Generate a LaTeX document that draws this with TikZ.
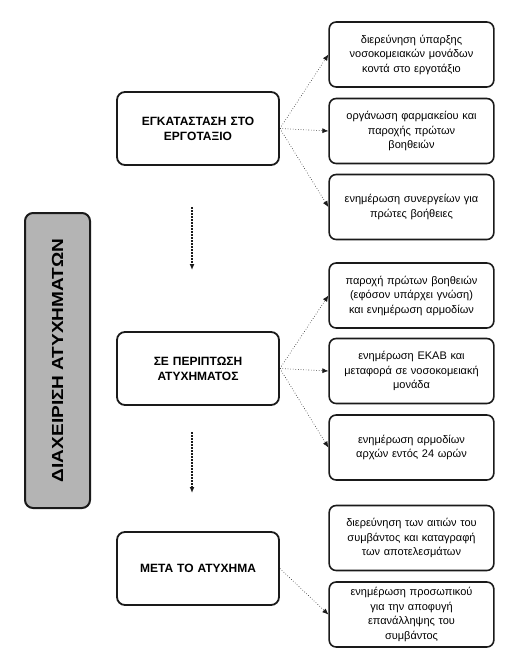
\documentclass[tikz,border=0pt]{standalone}
\usepackage{fontspec}
\usepackage{graphicx}
\setmainfont{Liberation Sans}
\usetikzlibrary{arrows.meta,positioning}
\definecolor{titlegray}{HTML}{B4B4B4}
\definecolor{inkline}{HTML}{1A1A1A}
\tikzset{
  titlebox/.style={draw=inkline, line width=2pt, rounded corners=8pt, fill=titlegray,
    minimum width=295pt, minimum height=65pt, font=\bfseries\fontsize{16}{18}\selectfont},
  phasebox/.style={draw=inkline, line width=1.8pt, rounded corners=8pt, align=center,
    minimum width=162pt, minimum height=73pt, text width=150pt,
    font=\bfseries\fontsize{12}{15}\selectfont},
  actbox/.style={draw=inkline, line width=1.6pt, rounded corners=7pt, align=center,
    minimum width=163pt, minimum height=65pt, text width=158pt,
    font=\fontsize{11}{14.5}\selectfont},
  arr/.style={-{Latex[length=6pt,width=5pt]}, line width=0.6pt, dotted, draw=inkline},
  steparr/.style={-{Latex[length=6pt,width=5pt]}, line width=1.6pt,
    dash pattern=on 1.6pt off 1.4pt, draw=inkline}
}
\begin{document}
\begin{tikzpicture}[x=1pt, y=-1pt]
  \useasboundingbox (0,0) rectangle (509,664);
  \node[titlebox, rotate=90] (title) at (57.5,360.5) {\scalebox{1.19}[1]{ΔΙΑΧΕΙΡΙΣΗ ΑΤΥΧΗΜΑΤΩΝ}};
  % phases
  \node[phasebox] (setup) at (198,128.5) {ΕΓΚΑΤΑΣΤΑΣΗ ΣΤΟ\\ΕΡΓΟΤΑΞΙΟ};
  \node[phasebox] (incident) at (198,368.5) {ΣΕ ΠΕΡΙΠΤΩΣΗ\\ΑΤΥΧΗΜΑΤΟΣ};
  \node[phasebox] (after) at (198,568.5) {ΜΕΤΑ ΤΟ ΑΤΥΧΗΜΑ};
  % actions
  \node[actbox] (hosp) at (411.5,54.5) {διερεύνηση ύπαρξης\\νοσοκομειακών μονάδων\\κοντά στο εργοτάξιο};
  \node[actbox] (pharm) at (411.5,131) {οργάνωση φαρμακείου και\\παροχής πρώτων\\βοηθειών};
  \node[actbox] (partners) at (411.5,207) {ενημέρωση συνεργείων για\\πρώτες βοήθειες\\[12pt]};
  \node[actbox] (firstaid) at (411.5,295.5) {παροχή πρώτων βοηθειών\\(εφόσον υπάρχει γνώση)\\και ενημέρωση αρμοδίων};
  \node[actbox] (ekab) at (411.5,371) {ενημέρωση ΕΚΑΒ και\\μεταφορά σε νοσοκομειακή\\μονάδα};
  \node[actbox] (report) at (411.5,447.5) {ενημέρωση αρμοδίων\\αρχών εντός 24 ωρών\\[12pt]};
  \node[actbox] (causes) at (411.5,538) {διερεύνηση των αιτιών του\\συμβάντος και καταγραφή\\των αποτελεσμάτων};
  \node[actbox] (staff) at (411.5,614.5) {ενημέρωση προσωπικού\\για την αποφυγή\\επανάλληψης του\\συμβάντος};
  % connectors
  \draw[arr] (setup.east) -- (hosp.west);
  \draw[arr] (setup.east) -- (pharm.west);
  \draw[arr] (setup.east) -- (partners.west);
  \draw[arr] (incident.east) -- (firstaid.west);
  \draw[arr] (incident.east) -- (ekab.west);
  \draw[arr] (incident.east) -- (report.west);
  \draw[arr] (after.east) -- (staff.west);
  \coordinate (flowA) at (192,207);
  \coordinate (flowB) at (192,270);
  \coordinate (flowC) at (192,432);
  \coordinate (flowD) at (192,493);
  \draw[steparr] (flowA) -- (flowB);
  \draw[steparr] (flowC) -- (flowD);
\end{tikzpicture}
\end{document}
